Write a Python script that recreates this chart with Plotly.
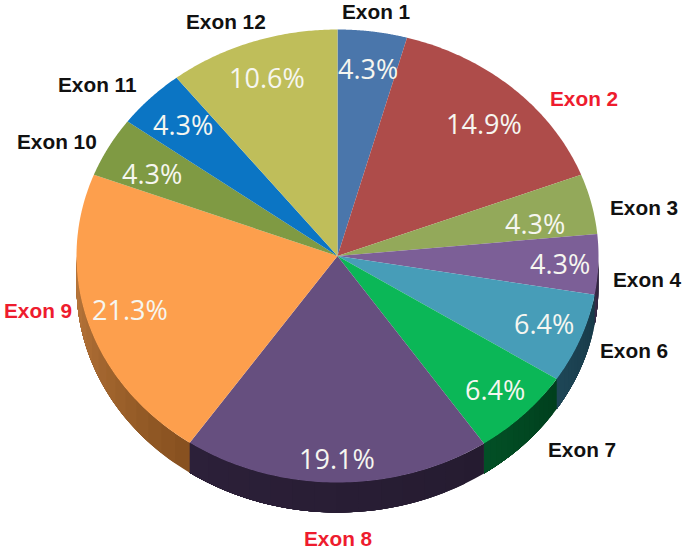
import numpy as np
import plotly.graph_objects as go

exons = ["Exon 1", "Exon 2", "Exon 3", "Exon 4", "Exon 6", "Exon 7",
         "Exon 8", "Exon 9", "Exon 10", "Exon 11", "Exon 12"]
percent = [4.3, 14.9, 4.3, 4.3, 6.4, 6.4, 19.1, 21.3, 4.3, 4.3, 10.6]

top_colors = ["#4a76ab", "#ae4c4a", "#93a95a", "#7c5f97", "#479db8", "#0bb757",
              "#664f7f", "#fd9f4d", "#7f9a43", "#0b75c4", "#bfbe5a"]
wall_left = ["#000000", "#000000", "#000000", "#3a2d4a", "#1e4656", "#025026",
             "#2c2039", "#bb783c", "#000000", "#000000", "#000000"]
wall_right = ["#000000", "#000000", "#000000", "#2c2039", "#173a49", "#003f1d",
              "#251b30", "#86501f", "#000000", "#000000", "#000000"]
label_colors = ["#111111", "#ee1c2e", "#111111", "#111111", "#111111", "#111111",
                "#ee1c2e", "#ee1c2e", "#111111", "#111111", "#111111"]

# Layout (pixels of the 685x550 page, used as axis units)
CX, CY, RX, RY, DEPTH = 337.5, 256.0, 261.0, 226.5, 30.0
label_pos = [(376, 11), (584, 98), (644, 207), (647, 279), (634, 350), (582, 449),
             (338, 538), (38, 310), (57, 141), (97, 84), (226, 21)]
pct_pos = [(368, 68), (484, 123), (535, 223), (560, 263), (544, 323), (495, 389),
           (337, 458), (130, 309), (152, 173), (183, 124), (267, 77)]


def mix(c1, c2, t):
    a = [int(c1[i:i + 2], 16) for i in (1, 3, 5)]
    b = [int(c2[i:i + 2], 16) for i in (1, 3, 5)]
    return "#%02x%02x%02x" % tuple(round(p + (q - p) * t) for p, q in zip(a, b))


vals = np.array(percent, dtype=float)
edges = np.concatenate([[0.0], np.cumsum(vals) / vals.sum() * 2 * np.pi])

fig = go.Figure()


def poly(xs, ys, color):
    fig.add_trace(go.Scatter(x=xs, y=ys, mode="none", fill="toself", fillcolor=color,
                             hoverinfo="skip", showlegend=False))


# Side wall: only the front half of the ellipse shows a wall
for i in range(len(vals)):
    a0, a1 = max(edges[i], np.pi / 2), min(edges[i + 1], 3 * np.pi / 2)
    if a1 <= a0:
        continue
    bands = 14
    b = np.linspace(a0, a1, bands + 1)
    # Painted from the far end so that each band overlaps the next one
    for k in range(bands):
        t = np.linspace(b[k], a1, 30)
        x = CX + RX * np.sin(t)
        y = CY - RY * np.cos(t)
        xs = np.concatenate([x, x[::-1]])
        ys = np.concatenate([y, y[::-1] + DEPTH])
        f = (k + 0.5) / bands
        poly(xs, ys, mix(wall_right[i], wall_left[i], f))

# Top face
for i in range(len(vals)):
    t = np.linspace(edges[i], edges[i + 1], 80)
    xs = np.concatenate([[CX], CX + RX * np.sin(t), [CX]])
    ys = np.concatenate([[CY], CY - RY * np.cos(t), [CY]])
    poly(xs, ys, top_colors[i])

annotations = []
for name, col, (lx, ly) in zip(exons, label_colors, label_pos):
    annotations.append(dict(x=lx, y=ly, xref="x", yref="y", text=name, showarrow=False,
                            font=dict(family="Liberation Sans", size=20.8, color=col,
                                      weight="bold")))
for p, (px, py) in zip(percent, pct_pos):
    annotations.append(dict(x=px, y=py, xref="x", yref="y", text=f"{p:.1f}%", showarrow=False,
                            font=dict(family="Open Sans", size=27, color="#f6f6f0")))

fig.update_layout(
    width=685, height=550, margin=dict(l=0, r=0, t=0, b=0),
    paper_bgcolor="white", plot_bgcolor="white", showlegend=False,
    xaxis=dict(range=[0, 685], visible=False, fixedrange=True),
    yaxis=dict(range=[550, 0], visible=False, fixedrange=True),
    annotations=annotations,
)
fig.write_html("out.html", config={"displayModeBar": False},
               post_script="document.body.style.margin='0';document.body.style.overflow='hidden';")
